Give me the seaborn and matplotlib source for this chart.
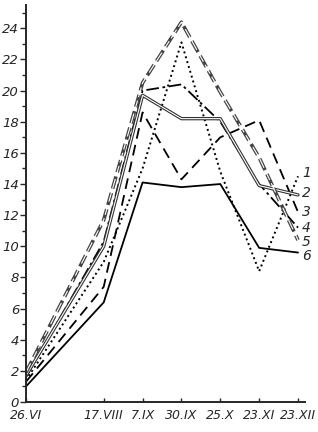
import matplotlib
matplotlib.use("Agg")
import matplotlib.pyplot as plt
import seaborn as sns
import pandas as pd
import numpy as np
from matplotlib.ticker import MultipleLocator

dates = ["26.VI", "17.VIII", "7.IX", "30.IX", "25.X", "23.XI", "23.XII"]
xpos = [0, 2, 3, 4, 5, 6, 7]

s1 = [1.4, 9.0, 15.0, 23.1, 14.8, 8.4, 14.5]   # dotted
s2 = [1.7, 10.0, 19.7, 18.2, 18.2, 13.9, 13.3]  # double solid
s3 = [1.3, 7.4, 18.6, 14.3, 17.0, 18.1, 12.2]   # dashed
s4 = [1.6, 10.3, 20.0, 20.4, 18.0, 14.0, 11.2]  # dash-dot
s5 = [1.9, 11.7, 20.5, 24.4, 19.9, 15.7, 10.4]  # double dashed
s6 = [1.0, 6.4, 14.1, 13.8, 14.0, 9.9, 9.6]     # solid
series_names = ["1", "2", "3", "4", "5", "6"]
series = [s1, s2, s3, s4, s5, s6]

sns.set_style("ticks")
plt.rcParams['font.family'] = ['Liberation Sans Narrow', 'DejaVu Sans']

fig = plt.figure(figsize=(3.18, 4.32), dpi=100)
ax = fig.add_axes([26/318, 30/432, (305-26)/318, (402-5)/432])

df = pd.DataFrame({"x": xpos * 6,
                   "y": sum(series, []),
                   "s": sum([[n]*7 for n in series_names], [])})

def sub(n):
    return df[df.s == n]

# 6 solid
sns.lineplot(data=sub("6"), x="x", y="y", ax=ax, color="black", lw=1.3, legend=False)
# 1 dotted
sns.lineplot(data=sub("1"), x="x", y="y", ax=ax, color="black", lw=1.4,
             legend=False).lines[-1].set_linestyle((0, (1, 1.6)))
# 3 dashed
l = sns.lineplot(data=sub("3"), x="x", y="y", ax=ax, color="black", lw=1.3, legend=False).lines[-1]
l.set_linestyle((0, (6, 3.5)))
# 4 dash-dot
l = sns.lineplot(data=sub("4"), x="x", y="y", ax=ax, color="black", lw=1.3, legend=False).lines[-1]
l.set_linestyle((0, (7, 2, 1.5, 2)))
# 2 double solid
sns.lineplot(data=sub("2"), x="x", y="y", ax=ax, color="#333333", lw=2.4, legend=False)
sns.lineplot(data=sub("2"), x="x", y="y", ax=ax, color="white", lw=0.8, legend=False)
# 5 double dashed
l = sns.lineplot(data=sub("5"), x="x", y="y", ax=ax, color="#444444", lw=2.6, legend=False).lines[-1]
l.set_linestyle((0, (3.5, 1.2)))
l = sns.lineplot(data=sub("5"), x="x", y="y", ax=ax, color="white", lw=0.8, legend=False).lines[-1]
l.set_linestyle((0, (9.1, 3.12)))

ax.set_xlim(0, 7.18)
ax.set_ylim(0, 25.5)
ax.set_xticks(xpos)
ax.set_xticklabels(dates, fontsize=9, style="italic")
ax.yaxis.set_major_locator(MultipleLocator(2))
ax.yaxis.set_minor_locator(MultipleLocator(1))
ax.set_yticklabels([str(int(v)) for v in ax.get_yticks()], fontsize=9.5, style="italic")
ax.tick_params(axis="y", which="major", direction="out", length=4, width=1, pad=1)
ax.tick_params(axis="y", which="minor", direction="out", length=3, width=1)
ax.tick_params(axis="x", which="major", direction="in", length=3, width=1, pad=5)
ax.set_xlabel("")
ax.set_ylabel("")
for sp in ["top", "right"]:
    ax.spines[sp].set_visible(False)
for sp in ["left", "bottom"]:
    ax.spines[sp].set_linewidth(1.4)

label_y = [14.7, 13.4, 12.2, 11.2, 10.3, 9.4]
for n, yv in zip(series_names, label_y):
    ax.text(7.1, yv, n, fontsize=10, style="italic", va="center", ha="left")

fig.savefig("out.png", dpi=100)
